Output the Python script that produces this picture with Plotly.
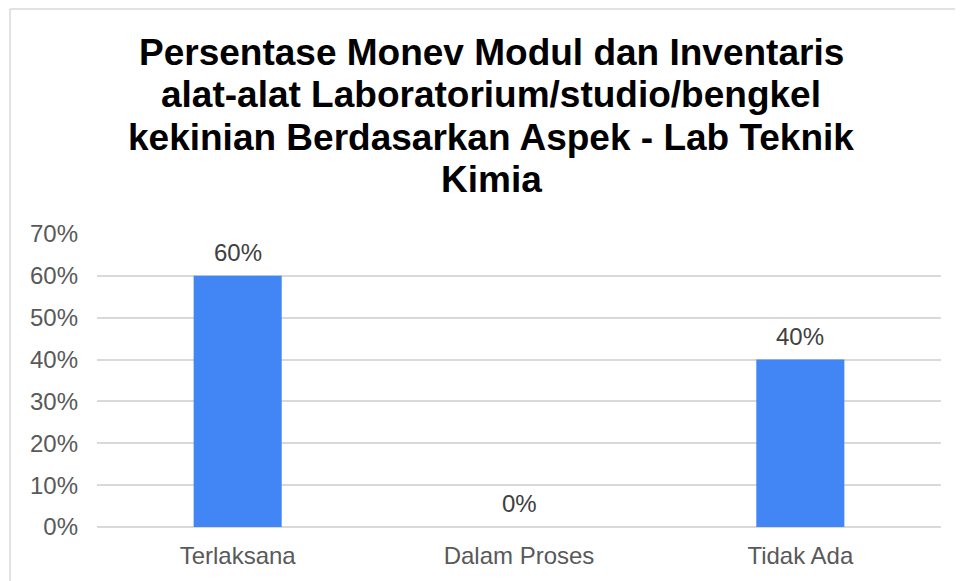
import plotly.graph_objects as go

categories = ["Terlaksana", "Dalam Proses", "Tidak Ada"]
values = [0.60, 0.00, 0.40]
labels = ["60%", "0%", "40%"]
tick_vals = [0, 0.1, 0.2, 0.3, 0.4, 0.5, 0.6, 0.7]
tick_text = ["0%", "10%", "20%", "30%", "40%", "50%", "60%", "70%"]
title_lines = ["Persentase Monev Modul dan Inventaris",
               "alat-alat Laboratorium/studio/bengkel",
               "kekinian Berdasarkan Aspek - Lab Teknik",
               "Kimia"]

OFF = 8  # page body margin
W, H = 963 - OFF, 581 - OFF
L, R, T, B = 97 - OFF, 963 - 941, 234 - OFF, 54
pw, ph = W - L - R, H - T - B

def px_x(x):
    return (x - OFF - L) / pw

def px_y(y):
    return (H - (y - OFF) - B) / ph

FONT = "Liberation Sans, Arial"

fig = go.Figure()
fig.add_trace(go.Bar(
    x=categories, y=values,
    marker=dict(color="#4285F4", line=dict(width=0)),
    width=0.313,
))

# data labels
for c, v, t in zip(categories, values, labels):
    fig.add_annotation(x=c, y=v, text=t, showarrow=False, yanchor="bottom", yshift=8,
                       font=dict(family=FONT, size=24, color="#404040"))

# title lines
baselines = [65, 107, 150, 192]
for line, bl in zip(title_lines, baselines):
    fig.add_annotation(xref="paper", yref="paper", x=px_x(491), y=px_y(bl - 13),
                       text="<b>" + line + "</b>", showarrow=False,
                       xanchor="center", yanchor="middle",
                       font=dict(family=FONT, size=37, color="#000000"))

# border (top and left only, as in the cropped reference)
bx = px_x(10)
by = px_y(9)
fig.add_shape(type="line", xref="paper", yref="paper", x0=bx, x1=px_x(975), y0=by, y1=by,
              line=dict(color="#D9D9D9", width=1.5))
fig.add_shape(type="line", xref="paper", yref="paper", x0=bx, x1=bx, y0=by, y1=px_y(590),
              line=dict(color="#D9D9D9", width=1.5))

fig.update_layout(
    width=W, height=H,
    margin=dict(l=L, r=R, t=T, b=B),
    paper_bgcolor="white", plot_bgcolor="white",
    showlegend=False,
    xaxis=dict(showgrid=False, showline=False, ticks="", ticklabelstandoff=12,
               tickfont=dict(family=FONT, size=24, color="#595959")),
    yaxis=dict(range=[0, 0.7], tickvals=tick_vals, ticktext=tick_text,
               showgrid=True, gridcolor="#D9D9D9", gridwidth=1.5, zeroline=True,
               zerolinecolor="#D9D9D9", zerolinewidth=1.5, showline=False, ticks="",
               ticklabelstandoff=18,
               tickfont=dict(family=FONT, size=24, color="#595959")),
)

fig.write_html("out.html")
